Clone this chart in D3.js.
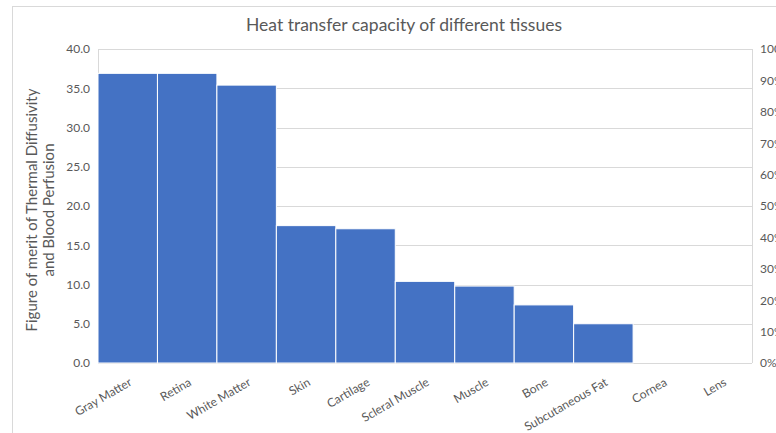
<!DOCTYPE html>
<html>
<head>
<meta charset="utf-8">
<script src="https://cdn.jsdelivr.net/npm/d3@7"></script>
<style>
  html, body { margin: 0; padding: 0; background: #fff; }
  svg { display: block; font-family: Lato, "Open Sans", sans-serif; }
</style>
</head>
<body>
<svg id="chart" width="776" height="433"></svg>
<script>
// Tissue categories and their figure of merit, sorted high to low (Pareto order)
const tissues = ["Gray Matter", "Retina", "White Matter", "Skin", "Cartilage",
  "Scleral Muscle", "Muscle", "Bone", "Subcutaneous Fat", "Cornea", "Lens"];
const meritValues = [36.9, 36.9, 35.4, 17.5, 17.1, 10.4, 9.8, 7.4, 5.0, 0, 0];
const leftTicks = [0, 5, 10, 15, 20, 25, 30, 35, 40];
const rightTicks = [0, 0.1, 0.2, 0.3, 0.4, 0.5, 0.6, 0.7, 0.8, 0.9, 1.0];

const chartTitle = "Heat transfer capacity of different tissues";
const yTitleLines = ["Figure of merit of Thermal Diffusivity", "and Blood Perfusion"];

const svg = d3.select("#chart");
const plot = { left: 98, right: 752, top: 49, bottom: 363 };
const textColor = "#595959";
const gridColor = "#d9d9d9";

// Chart frame
svg.append("rect")
  .attr("x", 12.5).attr("y", 6.5)
  .attr("width", 800).attr("height", 440)
  .attr("fill", "#fff").attr("stroke", "#d9d9d9").attr("stroke-width", 1);

const x = d3.scaleBand().domain(tissues).range([plot.left, plot.right]).padding(0);
const y = d3.scaleLinear().domain([0, 40]).range([plot.bottom, plot.top]);
const yPct = d3.scaleLinear().domain([0, 1]).range([plot.bottom, plot.top]);

// Horizontal gridlines
svg.append("g")
  .selectAll("line")
  .data(leftTicks)
  .join("line")
  .attr("x1", plot.left).attr("x2", plot.right)
  .attr("y1", d => Math.round(y(d)) + 0.5)
  .attr("y2", d => Math.round(y(d)) + 0.5)
  .attr("stroke", gridColor).attr("stroke-width", 1);

// Plot side lines
[plot.left, plot.right].forEach(px => {
  svg.append("line")
    .attr("x1", px + 0.5).attr("x2", px + 0.5)
    .attr("y1", plot.top).attr("y2", plot.bottom)
    .attr("stroke", gridColor).attr("stroke-width", 1);
});

// Bars
svg.append("g")
  .selectAll("rect")
  .data(tissues.map((t, i) => ({ t, v: meritValues[i] })))
  .join("rect")
  .attr("x", d => x(d.t))
  .attr("y", d => y(d.v))
  .attr("width", x.bandwidth())
  .attr("height", d => y(0) - y(d.v))
  .attr("fill", "#4472c4")
  .attr("stroke", d => d.v > 0 ? "#fff" : "none")
  .attr("stroke-width", 1);

// Left axis
const leftAxis = svg.append("g")
  .attr("transform", `translate(${plot.left},0)`)
  .call(d3.axisLeft(y).tickValues(leftTicks).tickFormat(d3.format(".1f")).tickSize(0).tickPadding(8));
leftAxis.select(".domain").remove();
leftAxis.selectAll("text")
  .attr("fill", textColor).attr("font-size", 12).attr("font-family", "Lato, sans-serif");

// Right (cumulative percentage) axis
const rightAxis = svg.append("g")
  .attr("transform", `translate(${plot.right},0)`)
  .call(d3.axisRight(yPct).tickValues(rightTicks).tickFormat(d3.format(".0%")).tickSize(0).tickPadding(8));
rightAxis.select(".domain").remove();
rightAxis.selectAll("text")
  .attr("fill", textColor).attr("font-size", 12).attr("font-family", "Lato, sans-serif");

// Category labels, rotated
svg.append("g")
  .selectAll("text")
  .data(tissues)
  .join("text")
  .attr("transform", d => `translate(${x(d) + x.bandwidth() / 2 + 3},${plot.bottom + 18}) rotate(-30)`)
  .attr("text-anchor", "end")
  .attr("dy", "0.35em")
  .attr("fill", textColor)
  .attr("font-size", 12)
  .text(d => d);

// Title
svg.append("text")
  .attr("x", 404).attr("y", 31)
  .attr("text-anchor", "middle")
  .attr("fill", textColor)
  .attr("font-size", 17.5)
  .text(chartTitle);

// Left axis title (two lines)
const yTitle = svg.append("text")
  .attr("transform", "translate(37,210) rotate(-90)")
  .attr("text-anchor", "middle")
  .attr("fill", textColor)
  .attr("font-size", 15);
yTitleLines.forEach((line, i) => {
  yTitle.append("tspan")
    .attr("x", 0)
    .attr("dy", i === 0 ? "0em" : "1.1em")
    .text(line);
});
</script>
</body>
</html>
